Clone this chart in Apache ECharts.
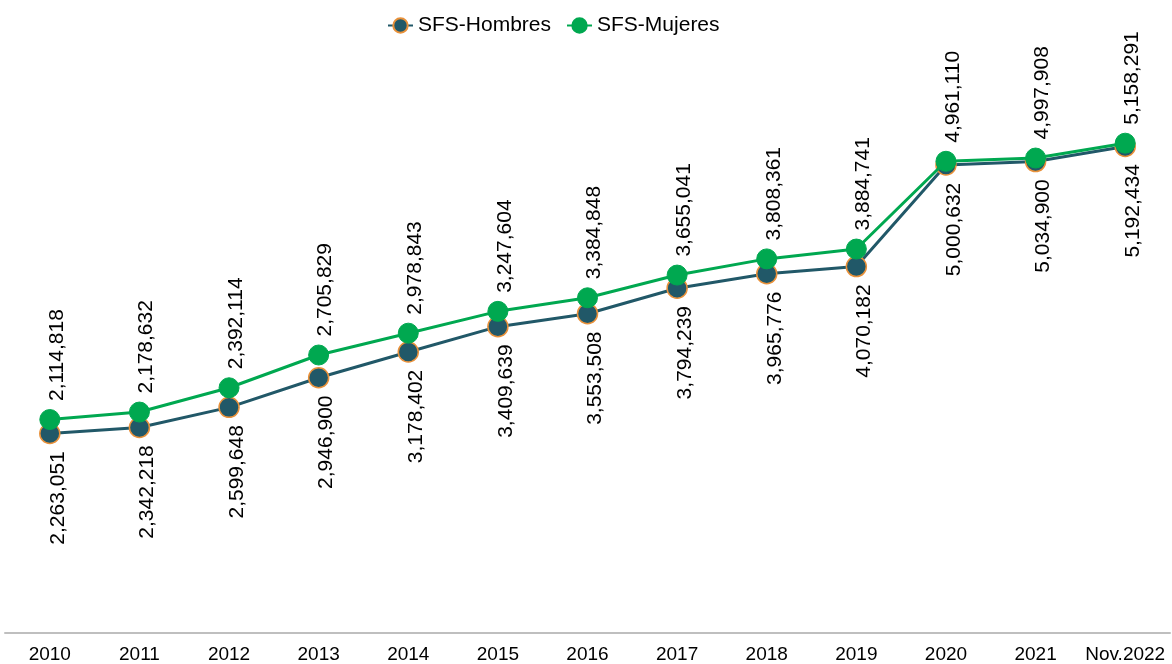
<!DOCTYPE html>
<html>
<head>
<meta charset="utf-8">
<script src="https://cdn.jsdelivr.net/npm/echarts@6/dist/echarts.min.js"></script>
<style>
  html, body { margin: 0; padding: 0; background: #fff; }
  #chart { width: 1172px; height: 664px; }
</style>
</head>
<body>
<div id="chart"></div>
<script>
const years = ["2010", "2011", "2012", "2013", "2014", "2015", "2016", "2017", "2018", "2019", "2020", "2021", "Nov.2022"];
// values as plotted by each line
const hombres = [2114818, 2178632, 2392114, 2705829, 2978843, 3247604, 3384848, 3655041, 3808361, 3884741, 4961110, 4997908, 5158291];
const mujeres = [2263051, 2342218, 2599648, 2946900, 3178402, 3409639, 3553508, 3794239, 3965776, 4070182, 5000632, 5034900, 5192434];

const font = 'Arial, "Liberation Sans", sans-serif';
const fmt = v => v.toLocaleString("en-US");

const chart = echarts.init(document.getElementById("chart"));
chart.setOption({
  animation: false,
  textStyle: { fontFamily: font },
  legend: {
    top: 10,
    left: 382,
    itemWidth: 25,
    itemHeight: 18,
    itemGap: 15,
    textStyle: { fontSize: 21, color: "#000", fontFamily: font },
    data: ["SFS-Hombres", "SFS-Mujeres"]
  },
  grid: { left: 5, right: 2, top: 67, bottom: 31, containLabel: false },
  xAxis: {
    type: "category",
    data: years,
    boundaryGap: true,
    axisLine: { lineStyle: { color: "#bfbfbf", width: 2 } },
    axisTick: { show: false },
    axisLabel: { interval: 0, fontSize: 19, color: "#000", margin: 12, fontFamily: font }
  },
  yAxis: {
    type: "value",
    min: 0,
    max: 6000000,
    show: false,
    splitLine: { show: false }
  },
  series: [
    {
      name: "SFS-Hombres",
      type: "line",
      data: hombres,
      symbol: "circle",
      symbolSize: 20,
      z: 2,
      lineStyle: { color: "#215868", width: 3 },
      itemStyle: { color: "#215868", borderColor: "#e9913a", borderWidth: 1.5 },
      // the reference prints the other series' figures under this line
      label: {
        show: true,
        position: "bottom",
        distance: 10,
        rotate: 90,
        align: "right",
        verticalAlign: "middle",
        offset: [3, 8],
        fontSize: 21,
        color: "#000",
        fontFamily: font,
        formatter: p => fmt(mujeres[p.dataIndex])
      }
    },
    {
      name: "SFS-Mujeres",
      type: "line",
      data: mujeres,
      symbol: "circle",
      symbolSize: 20,
      z: 3,
      lineStyle: { color: "#00a850", width: 3 },
      itemStyle: { color: "#00a850", borderColor: "#00a850", borderWidth: 1 },
      label: {
        show: true,
        position: "top",
        distance: 5,
        rotate: 90,
        align: "left",
        verticalAlign: "middle",
        offset: [3, 7],
        fontSize: 21,
        color: "#000",
        fontFamily: font,
        formatter: p => fmt(hombres[p.dataIndex])
      }
    }
  ]
});
</script>
</body>
</html>
